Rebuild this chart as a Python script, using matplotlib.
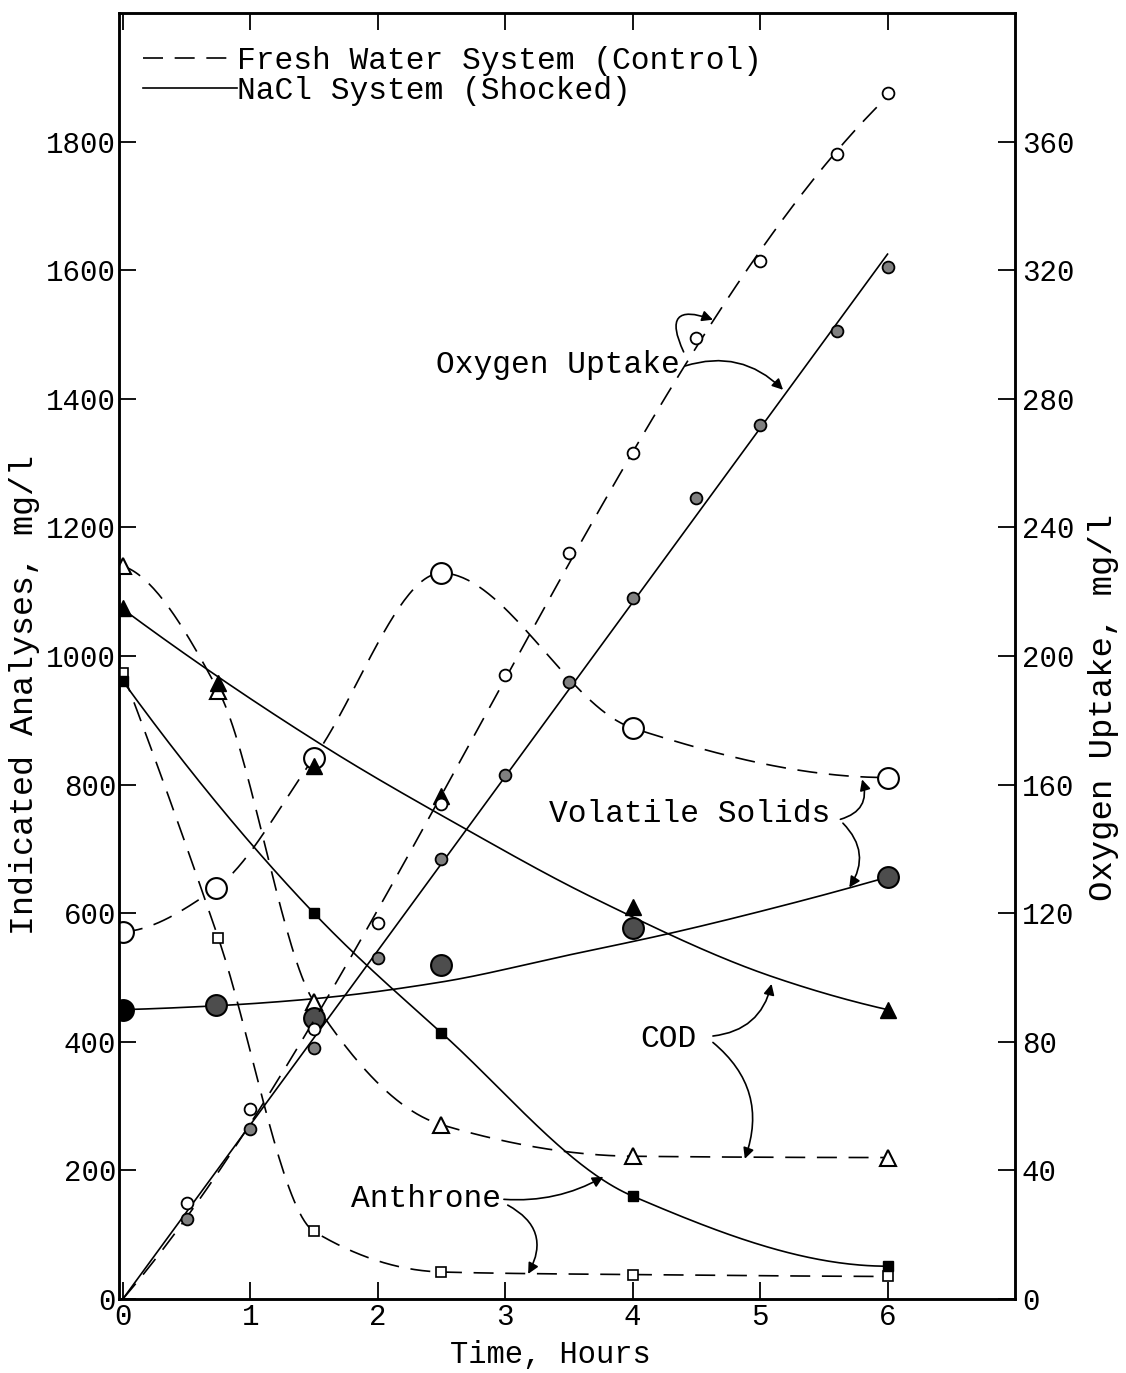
import numpy as np
import matplotlib
matplotlib.use("Agg")
import matplotlib.pyplot as plt
from matplotlib.lines import Line2D

plt.rcParams['font.family'] = ['Liberation Mono', 'DejaVu Sans Mono']

# ---------------- data ----------------
# Oxygen uptake, mg/l (right axis)
o2_t = [0, 0.5, 1, 1.5, 2, 2.5, 3, 3.5, 4, 4.5, 5, 5.6, 6]
o2_fresh = [0, 30, 59, 84, 117, 154, 194, 232, 263, 299, 323, 356, 375]
o2_shock = [0, 25, 53, 78, 106, 137, 163, 192, 218, 249, 272, 301, 321]

# COD, mg/l
cod_t = [0, 0.75, 1.5, 2.5, 4, 6]
cod_fresh = [1140, 946, 462, 271, 222, 220]
cod_shock = [1075, 958, 829, 783, 610, 450]
# smoothed (hand-fitted) curve for shocked COD
cod_shock_curve_t = [0, 1.6, 2.6, 3.7, 5.1, 6.0]
cod_shock_curve_v = [1073, 857, 741, 623, 501, 450]

# Anthrone, mg/l
anth_t_fresh = [0, 0.75, 1.5, 2.5, 4, 6]
anth_fresh = [974, 561, 105, 42, 38, 35]
anth_t_shock = [0, 1.5, 2.5, 4, 6]
anth_shock = [961, 600, 414, 160, 51]

# Volatile solids, mg/l
vs_t = [0, 0.73, 1.5, 2.5, 4, 6]
vs_fresh = [571, 639, 842, 1129, 888, 811]
vs_shock = [450, 457, 437, 519, 577, 656]
# smoothed (hand-fitted) curve for shocked VS
vs_shock_curve_t = [0, 0.73, 1.5, 2.5, 3.5, 4.3, 5.3, 6.0]
vs_shock_curve_v = [450, 456, 467, 493, 535, 569, 618, 656]

x_ticks = [0, 1, 2, 3, 4, 5, 6]
left_ticks = list(range(0, 1801, 200))
right_ticks = list(range(0, 361, 40))


def pchip(x, y, xs):
    x = np.asarray(x, float); y = np.asarray(y, float); xs = np.asarray(xs, float)
    h = np.diff(x); delta = np.diff(y) / h
    n = len(x); d = np.zeros(n)
    for k in range(1, n - 1):
        if delta[k - 1] * delta[k] <= 0:
            d[k] = 0
        else:
            w1 = 2 * h[k] + h[k - 1]; w2 = h[k] + 2 * h[k - 1]
            d[k] = (w1 + w2) / (w1 / delta[k - 1] + w2 / delta[k])
    def endd(h0, h1, d0, d1):
        v = ((2 * h0 + h1) * d0 - h0 * d1) / (h0 + h1)
        if np.sign(v) != np.sign(d0):
            v = 0
        elif np.sign(d0) != np.sign(d1) and abs(v) > abs(3 * d0):
            v = 3 * d0
        return v
    if n > 2:
        d[0] = endd(h[0], h[1], delta[0], delta[1])
        d[-1] = endd(h[-1], h[-2], delta[-1], delta[-2])
    else:
        d[:] = delta[0]
    idx = np.clip(np.searchsorted(x, xs) - 1, 0, n - 2)
    hh = h[idx]; s = (xs - x[idx]) / hh
    h00 = 2 * s**3 - 3 * s**2 + 1; h10 = s**3 - 2 * s**2 + s
    h01 = -2 * s**3 + 3 * s**2; h11 = s**3 - s**2
    return h00 * y[idx] + h10 * hh * d[idx] + h01 * y[idx + 1] + h11 * hh * d[idx + 1]


def fit_origin(t, v, deg, ts):
    t = np.asarray(t, float); v = np.asarray(v, float)
    A = np.vstack([t**p for p in range(1, deg + 1)]).T
    c, *_ = np.linalg.lstsq(A, v, rcond=None)
    return sum(c[p - 1] * ts**p for p in range(1, deg + 1))


fig = plt.figure(figsize=(11.26, 13.73), dpi=100)
ax = fig.add_axes([119 / 1126, 74 / 1373, 896 / 1126, 1286 / 1373])
ax2 = ax.twinx()

ax.set_xlim(-0.03, 7)
ax.set_ylim(0, 2000)
ax2.set_ylim(0, 400)

DASH = (12, 7)
LW = 1.2
k = 'black'

# ---- Oxygen uptake (right axis) ----
ts = np.linspace(0, 6, 300)
ax2.plot(ts, fit_origin(o2_t, o2_fresh, 3, ts), color=k, lw=LW, dashes=DASH, zorder=2)
ax2.plot(ts, fit_origin(o2_t, o2_shock, 1, ts), color=k, lw=LW, zorder=2)
ax2.plot(o2_t[1:], o2_fresh[1:], 'o', ms=8.5, mfc='white', mec=k, mew=1.3, zorder=4)
ax2.plot(o2_t[1:], o2_shock[1:], 'o', ms=8.5, mfc='0.5', mec=k, mew=1.3, zorder=4)

# ---- COD ----
tc = np.linspace(0, 6, 300)
ax.plot(tc, pchip(cod_t, cod_fresh, tc), color=k, lw=LW, dashes=DASH, zorder=2)
ax.plot(tc, pchip(cod_shock_curve_t, cod_shock_curve_v, tc), color=k, lw=LW, zorder=2)
ax.plot(cod_t, cod_fresh, '^', ms=12, mfc='white', mec=k, mew=1.5, zorder=4)
ax.plot(cod_t, cod_shock, '^', ms=11, mfc=k, mec=k, zorder=5)

# ---- Anthrone ----
ax.plot(tc, pchip(anth_t_fresh, anth_fresh, tc), color=k, lw=LW, dashes=DASH, zorder=2)
ax.plot(tc, pchip(anth_t_shock, anth_shock, tc), color=k, lw=LW, zorder=2)
ax.plot(anth_t_fresh, anth_fresh, 's', ms=7, mfc='white', mec=k, mew=1.2, zorder=4)
ax.plot(anth_t_shock, anth_shock, 's', ms=7, mfc=k, mec=k, zorder=5)

# ---- Volatile solids ----
ax.plot(tc, pchip(vs_t, vs_fresh, tc), color=k, lw=LW, dashes=DASH, zorder=2)
ax.plot(tc, pchip(vs_shock_curve_t, vs_shock_curve_v, tc), color=k, lw=LW, zorder=2)
ax.plot(vs_t, vs_fresh, 'o', ms=15, mfc='white', mec=k, mew=1.5, zorder=4)
ax.plot(vs_t[1:], vs_shock[1:], 'o', ms=15, mfc='0.3', mec=k, mew=1.5, zorder=4)
ax.plot(vs_t[:1], vs_shock[:1], 'o', ms=15, mfc=k, mec=k, mew=1.5, zorder=4)

# ---- axes styling ----
FS_T = 21
ax.set_xticks(x_ticks)
ax.set_xticklabels([str(v) for v in x_ticks])
ax.set_yticks(left_ticks)
ax.set_yticklabels([str(v) for v in left_ticks])
ax2.set_yticks(right_ticks)
ax2.set_yticklabels([str(v) for v in right_ticks])
ax.tick_params(axis='both', direction='in', length=12, width=1.3, labelsize=FS_T, pad=3,
               top=True, right=False)
ax.tick_params(axis='y', pad=2)
ax2.tick_params(axis='y', direction='in', length=12, width=1.3, labelsize=FS_T, pad=5)
for a in (ax, ax2):
    for sp in a.spines.values():
        sp.set_linewidth(1.8)

ax.set_xlabel('Time, Hours', fontsize=22)
ax.xaxis.set_label_coords(0.481, -0.032)
ax.set_ylabel('Indicated Analyses, mg/l', fontsize=24)
ax.yaxis.set_label_coords(-0.088, 0.47)
ax2.set_ylabel('Oxygen Uptake, mg/l', fontsize=24.5, rotation=90)
ax2.yaxis.set_label_coords(1.082, 0.46)

# ---- legend ----
handles = [Line2D([], [], color=k, lw=LW, dashes=DASH),
           Line2D([], [], color=k, lw=LW)]
ax.legend(handles, ['Fresh Water System (Control)', 'NaCl System (Shocked)'],
          loc='upper left', bbox_to_anchor=(0.027, 0.974), frameon=False,
          fontsize=22.5, handlelength=3.0, handletextpad=0.0, labelspacing=0.0,
          borderpad=0, borderaxespad=0)

# ---- annotations ----
FS_A = 22.5
ap = dict(arrowstyle='-|>', color=k, lw=1.2, shrinkA=0, shrinkB=0, mutation_scale=16)

def arrow(start, end, rad):
    d = dict(ap); d['connectionstyle'] = f'arc3,rad={rad}'
    ax.annotate('', xy=end, xytext=start, arrowprops=d, zorder=6)

ax.text(3.41, 1453, 'Oxygen Uptake', fontsize=FS_A, ha='center', va='center')
arrow((4.40, 1473), (4.63, 1523), -1.2)
arrow((4.41, 1451), (5.18, 1414), -0.3)

ax.text(4.45, 754, 'Volatile Solids', fontsize=FS_A, ha='center', va='center')
arrow((5.63, 746), (5.80, 808), 0.5)
arrow((5.65, 740), (5.70, 640), -0.4)

ax.text(4.28, 404, 'COD', fontsize=FS_A, ha='center', va='center')
arrow((4.63, 409), (5.09, 490), 0.35)
arrow((4.63, 399), (4.88, 218), -0.35)

ax.text(2.38, 155, 'Anthrone', fontsize=FS_A, ha='center', va='center')
arrow((2.99, 155), (3.77, 190), 0.15)
arrow((3.02, 146), (3.18, 39), -0.5)

fig.savefig('out.png', dpi=100)
